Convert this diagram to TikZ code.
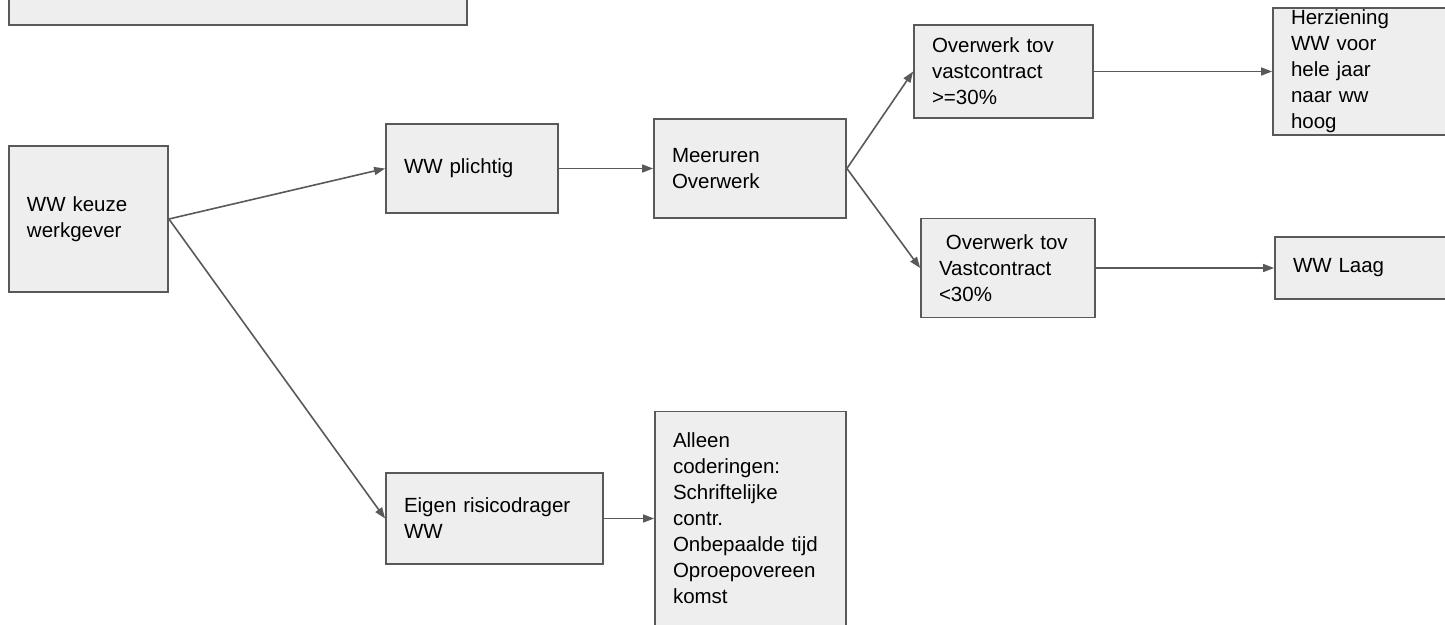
\documentclass[tikz,border=0pt]{standalone}
\usepackage{fontspec}
\setmainfont{Liberation Sans}
\usetikzlibrary{arrows.meta}
\definecolor{boxgray}{HTML}{EEEEEE}
\definecolor{linegray}{HTML}{595959}
\tikzset{
  stap/.style={draw=linegray, fill=boxgray, line width=1.8pt, inner xsep=18pt, inner ysep=0pt,
    align=left, anchor=center, font=\fontsize{20.5}{26}\selectfont},
  pijl/.style={draw=linegray, line width=1.6pt, -{Triangle[length=11pt,width=8pt]}}
}
\begin{document}
\begin{tikzpicture}[x=1pt,y=-1pt]
\useasboundingbox (0,0) rectangle (1445,624);
\node[stap, minimum width=458pt, minimum height=65pt, text width=422pt] (kop) at (238,-7.5){};
\node[stap, minimum width=159pt, minimum height=146pt, text width=123pt] (keuze) at (88.5,219){WW keuze\\werkgever};
\node[stap, minimum width=172pt, minimum height=89pt, text width=136pt] (plichtig) at (472,168.5){WW plichtig};
\node[stap, minimum width=192pt, minimum height=99pt, text width=156pt] (meeruren) at (750,168.5){Meeruren\\Overwerk};
\node[stap, minimum width=179pt, minimum height=93pt, text width=143pt] (boven30) at (1003.5,71.5){Overwerk tov\\vastcontract\\>=30\%};
\node[stap, minimum width=174pt, minimum height=99pt, text width=138pt] (onder30) at (1008,268){~Overwerk tov\\Vastcontract\\<30\%};
\node[stap, minimum width=187pt, minimum height=127pt, text width=151pt] (herziening) at (1366.5,71.5){Herziening\\WW voor\\hele jaar\\naar ww\\hoog};
\node[stap, minimum width=185pt, minimum height=62pt, text width=149pt] (laag) at (1367.5,268){WW Laag};
\node[stap, minimum width=217pt, minimum height=91pt, text width=181pt] (eigen) at (494.5,518.5){Eigen risicodrager\\WW};
\node[stap, minimum width=191pt, minimum height=214pt, text width=155pt] (alleen) at (750.5,518.5){Alleen\\coderingen:\\Schriftelijke\\contr.\\Onbepaalde tijd\\Oproepovereen\\komst};
\draw[pijl](keuze.east) -- (plichtig.west);
\draw[pijl](keuze.east) -- (eigen.west);
\draw[pijl](plichtig.east) -- (meeruren.west);
\draw[pijl](meeruren.east) -- (boven30.west);
\draw[pijl](meeruren.east) -- (onder30.west);
\draw[pijl](boven30.east) -- (herziening.west);
\draw[pijl](onder30.east) -- (laag.west);
\draw[pijl](eigen.east) -- (alleen.west);
\end{tikzpicture}
\end{document}
